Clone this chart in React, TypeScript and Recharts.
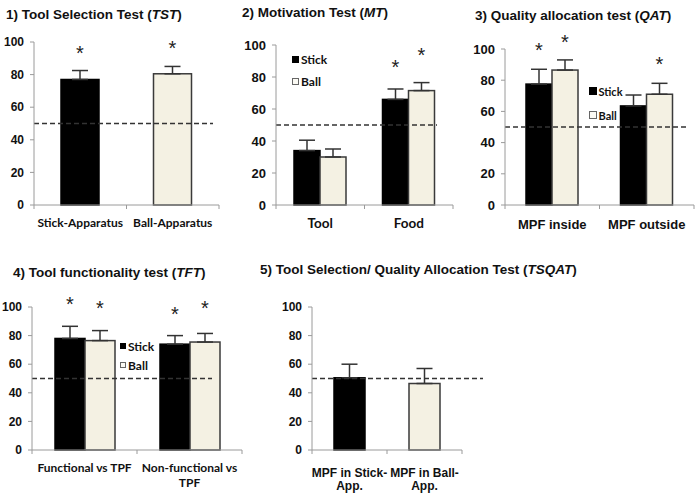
import React from 'react';
import { BarChart, Bar, XAxis, YAxis, ErrorBar, ReferenceLine, Cell } from 'recharts';

const CHANCE = 50;
const Y_TICKS = [0, 20, 40, 60, 80, 100];

// 1) Tool Selection Test
const tstCategories = ['Stick-Apparatus', 'Ball-Apparatus'];
const tstValues = [77, 80.5];
const tstErrors = [5.5, 4.5];
const tstStars = [96, 99];

// 2) Motivation Test
const mtCategories = ['Tool', 'Food'];
const mtStick = [34, 66];
const mtStickErr = [6.5, 6.5];
const mtStickStars = [null, 89];
const mtBall = [30, 71.5];
const mtBallErr = [5, 5];
const mtBallStars = [null, 96];

// 3) Quality allocation test
const qatCategories = ['MPF inside', 'MPF outside'];
const qatStick = [77.5, 63.5];
const qatStickErr = [9.5, 7];
const qatStickStars = [102, null];
const qatBall = [86.5, 71];
const qatBallErr = [6.5, 7];
const qatBallStars = [107, 93];

// 4) Tool functionality test
const tftCategories = ['Functional vs TPF', 'Non-functional vs\nTPF'];
const tftStick = [78, 74];
const tftStickErr = [8.5, 6];
const tftStickStars = [105, 98];
const tftBall = [76.5, 75.5];
const tftBallErr = [7, 6];
const tftBallStars = [102, 102];

// 5) Tool Selection / Quality Allocation Test
const tsqatCategories = ['MPF in Stick-\nApp.', 'MPF in Ball-\nApp.'];
const tsqatValues = [50.5, 46.5];
const tsqatErrors = [9.5, 10.5];

const STICK_FILL = '#000000';
const BALL_FILL = '#f4f1e3';
const BALL_STROKE = '#3a3a3a';
const AXIS = '#9a9a9a';
const ARIAL = '"Liberation Sans", Arial, sans-serif';
const CALIBRI = 'Lato, "Open Sans", sans-serif';

type Series = {
  key: string;
  values: number[];
  errors: number[];
  stars?: (number | null)[];
  fill: string;
  stroke: string;
  cellFills?: string[];
  cellStrokes?: string[];
};

// bar rect plus the significance asterisk, placed with the bar's own scale
const makeBarShape = (valueKey: string, starKey: string) => (props: any) => {
  const { x, y, width, height, fill, stroke, payload } = props;
  const v = payload ? payload[valueKey] : 0;
  const star = payload ? payload[starKey] : null;
  let starEl = null;
  if (star != null && v > 0 && height > 0) {
    const cy = y + height - (star / v) * height;
    starEl = (
      <text x={x + width / 2} y={cy + 11} textAnchor="middle" fontSize={20} fontFamily={ARIAL} fill="#222">
        *
      </text>
    );
  }
  return (
    <g>
      <rect x={x} y={y} width={width} height={height} fill={fill} stroke={stroke} strokeWidth={1.5} />
      {starEl}
    </g>
  );
};

const dashShape = (dx: number) => (props: any) => (
  <line
    x1={props.x1}
    y1={props.y1}
    x2={props.x2 + dx}
    y2={props.y2}
    stroke="#333"
    strokeWidth={1.5}
    strokeDasharray="5 3"
  />
);

function CategoryTick(props: any) {
  const { x, y, payload, index, count, band, font, size, dy, lh } = props;
  const lines = String(payload.value).split('\n');
  return (
    <g>
      <line x1={x - band / 2} y1={y} x2={x - band / 2} y2={y + 4} stroke={AXIS} />
      {index === count - 1 && <line x1={x + band / 2} y1={y} x2={x + band / 2} y2={y + 4} stroke={AXIS} />}
      <text textAnchor="middle" fontFamily={font} fontSize={size} fontWeight="bold" fill="#111">
        {lines.map((l, i) => (
          <tspan key={i} x={x} y={y + dy + i * lh}>
            {l}
          </tspan>
        ))}
      </text>
    </g>
  );
}

type PanelProps = {
  left: number;
  top: number;
  width: number;
  height: number;
  margin: { top: number; right: number; bottom: number; left: number };
  yWidth: number;
  xHeight: number;
  categories: string[];
  series: Series[];
  barSize: number;
  dashDx: number;
  yFont: number;
  labelFont: string;
  labelSize: number;
  labelDy: number;
  lineHeight?: number;
};

function Panel(p: PanelProps) {
  const data = p.categories.map((name, i) => {
    const row: any = { name };
    p.series.forEach((s) => {
      row[s.key] = s.values[i];
      row[s.key + 'Err'] = [0, s.errors[i]];
      row[s.key + 'Star'] = s.stars ? s.stars[i] : null;
    });
    return row;
  });
  const plotWidth = p.width - p.margin.left - p.margin.right - p.yWidth;
  const band = plotWidth / p.categories.length;

  return (
    <div style={{ position: 'absolute', left: p.left, top: p.top }}>
      <BarChart width={p.width} height={p.height} data={data} margin={p.margin} barGap={0} barSize={p.barSize}>
        <XAxis
          dataKey="name"
          height={p.xHeight}
          axisLine={{ stroke: AXIS, strokeWidth: 1 }}
          tickLine={false}
          tickSize={0}
          tickMargin={0}
          interval={0}
          tick={(tp: any) => (
            <CategoryTick
              {...tp}
              count={p.categories.length}
              band={band}
              font={p.labelFont}
              size={p.labelSize}
              dy={p.labelDy}
              lh={p.lineHeight || 14}
            />
          )}
        />
        <YAxis
          width={p.yWidth}
          domain={[0, 100]}
          ticks={Y_TICKS}
          interval={0}
          axisLine={{ stroke: AXIS, strokeWidth: 1 }}
          tickLine={{ stroke: AXIS }}
          tickSize={4}
          tickMargin={6}
          tick={{ fill: '#111', fontSize: p.yFont, fontWeight: 'bold', fontFamily: ARIAL }}
        />
        <ReferenceLine y={CHANCE} shape={dashShape(p.dashDx)} />
        {p.series.map((s) => (
          <Bar
            key={s.key}
            dataKey={s.key}
            fill={s.fill}
            stroke={s.stroke}
            shape={makeBarShape(s.key, s.key + 'Star')}
            isAnimationActive={false}
          >
            {s.cellFills &&
              data.map((_, i) => (
                <Cell key={i} fill={s.cellFills![i]} stroke={s.cellStrokes ? s.cellStrokes[i] : s.stroke} />
              ))}
            <ErrorBar
              dataKey={s.key + 'Err'}
              width={8}
              stroke="#333"
              strokeWidth={1.5}
              direction="y"
              isAnimationActive={false}
            />
          </Bar>
        ))}
      </BarChart>
    </div>
  );
}

function LegendBox({ left, top, size, fontSize }: { left: number; top: number; size: number; fontSize: number }) {
  const item = (label: string, fill: string, stroke: string, cy: number) => (
    <div
      style={{
        position: 'absolute',
        left,
        top: cy - 8,
        height: 16,
        display: 'flex',
        alignItems: 'center',
        gap: 2,
        fontFamily: CALIBRI,
        fontWeight: 'bold',
        fontSize,
        color: '#111',
        whiteSpace: 'nowrap',
      }}
    >
      <span style={{ width: size, height: size, background: fill, border: `1px solid ${stroke}`, boxSizing: 'border-box' }} />
      <span>{label}</span>
    </div>
  );
  return (
    <>
      {item('Stick', STICK_FILL, STICK_FILL, top)}
      {item('Ball', '#fbfaf4', '#666', top + size * 3.2)}
    </>
  );
}

function Title({ left, top, text, abbr }: { left: number; top: number; text: string; abbr: string }) {
  return (
    <div
      style={{
        position: 'absolute',
        left,
        top,
        fontFamily: ARIAL,
        fontWeight: 'bold',
        fontSize: 13.5,
        lineHeight: '15px',
        color: '#111',
        whiteSpace: 'nowrap',
      }}
    >
      {text} (<i>{abbr}</i>)
    </div>
  );
}

export default function App() {
  return (
    <div style={{ position: 'absolute', left: 0, top: 0, width: 700, height: 493, background: '#fff', overflow: 'hidden' }}>
      <Title left={6} top={7} text="1) Tool Selection Test" abbr="TST" />
      <Title left={242} top={4.5} text="2) Motivation Test" abbr="MT" />
      <Title left={475} top={8} text="3) Quality allocation test" abbr="QAT" />
      <Title left={13} top={265} text="4) Tool functionality test" abbr="TFT" />
      <Title left={260} top={262} text="5) Tool Selection/ Quality Allocation Test" abbr="TSQAT" />

      <Panel
        left={0}
        top={0}
        width={240}
        height={240}
        margin={{ top: 42, right: 21, bottom: 5, left: 0 }}
        yWidth={34}
        xHeight={30}
        categories={tstCategories}
        series={[
          {
            key: 'tst',
            values: tstValues,
            errors: tstErrors,
            stars: tstStars,
            fill: STICK_FILL,
            stroke: STICK_FILL,
            cellFills: [STICK_FILL, BALL_FILL],
            cellStrokes: [STICK_FILL, BALL_STROKE],
          },
        ]}
        barSize={38}
        dashDx={-6}
        yFont={12}
        labelFont={CALIBRI}
        labelSize={12}
        labelDy={22}
      />

      <Panel
        left={230}
        top={0}
        width={240}
        height={240}
        margin={{ top: 45, right: 17, bottom: 5, left: 0 }}
        yWidth={46}
        xHeight={30}
        categories={mtCategories}
        series={[
          { key: 'stick', values: mtStick, errors: mtStickErr, stars: mtStickStars, fill: STICK_FILL, stroke: STICK_FILL },
          { key: 'ball', values: mtBall, errors: mtBallErr, stars: mtBallStars, fill: BALL_FILL, stroke: BALL_STROKE },
        ]}
        barSize={26}
        dashDx={-16}
        yFont={13}
        labelFont={CALIBRI}
        labelSize={13.5}
        labelDy={23}
      />

      <Panel
        left={460}
        top={0}
        width={240}
        height={240}
        margin={{ top: 49, right: 6, bottom: 5, left: 0 }}
        yWidth={45}
        xHeight={30}
        categories={qatCategories}
        series={[
          { key: 'stick', values: qatStick, errors: qatStickErr, stars: qatStickStars, fill: STICK_FILL, stroke: STICK_FILL },
          { key: 'ball', values: qatBall, errors: qatBallErr, stars: qatBallStars, fill: BALL_FILL, stroke: BALL_STROKE },
        ]}
        barSize={26}
        dashDx={-7}
        yFont={13}
        labelFont={ARIAL}
        labelSize={13}
        labelDy={24}
      />

      <Panel
        left={0}
        top={250}
        width={260}
        height={243}
        margin={{ top: 57, right: 18, bottom: 3, left: 0 }}
        yWidth={32}
        xHeight={40}
        categories={tftCategories}
        series={[
          { key: 'stick', values: tftStick, errors: tftStickErr, stars: tftStickStars, fill: STICK_FILL, stroke: STICK_FILL },
          { key: 'ball', values: tftBall, errors: tftBallErr, stars: tftBallStars, fill: BALL_FILL, stroke: BALL_STROKE },
        ]}
        barSize={30}
        dashDx={-30}
        yFont={12}
        labelFont={CALIBRI}
        labelSize={12}
        labelDy={22}
        lineHeight={15}
      />

      <Panel
        left={270}
        top={250}
        width={240}
        height={243}
        margin={{ top: 57, right: 48, bottom: 3, left: 0 }}
        yWidth={42}
        xHeight={40}
        categories={tsqatCategories}
        series={[
          {
            key: 'tsqat',
            values: tsqatValues,
            errors: tsqatErrors,
            fill: STICK_FILL,
            stroke: STICK_FILL,
            cellFills: [STICK_FILL, BALL_FILL],
            cellStrokes: [STICK_FILL, BALL_STROKE],
          },
        ]}
        barSize={31}
        dashDx={21}
        yFont={12}
        labelFont={ARIAL}
        labelSize={12}
        labelDy={27}
        lineHeight={12.5}
      />

      <LegendBox left={292} top={59} size={7} fontSize={12} />
      <LegendBox left={589} top={91} size={7.5} fontSize={11} />
      <LegendBox left={120} top={346} size={6} fontSize={12} />
    </div>
  );
}
